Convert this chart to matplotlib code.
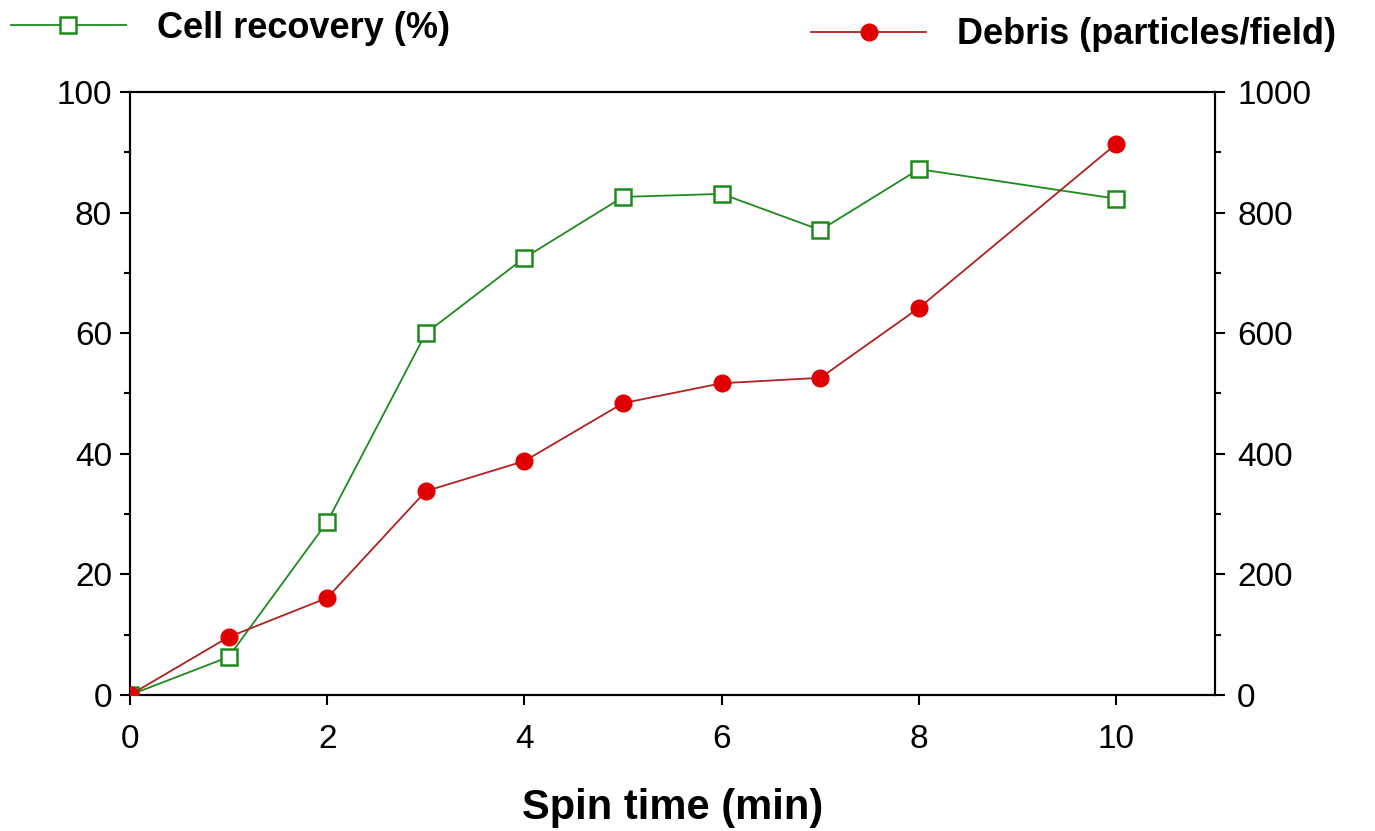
import matplotlib.pyplot as plt
from matplotlib.ticker import MultipleLocator

# === 資料 ===
spin_time = [0, 1, 2, 3, 4, 5, 6, 7, 8, 10]
cell_recovery = [0, 6.3, 28.7, 60.0, 72.5, 82.6, 83.1, 77.1, 87.2, 82.3]
debris = [0, 96, 161, 338, 388, 484, 517, 526, 642, 914]

plt.rcParams['font.family'] = ['Liberation Sans', 'DejaVu Sans']

fig = plt.figure(figsize=(13.75, 8.31), dpi=100)
ax = fig.add_axes([0.0945, 0.1637, 0.7891, 0.7256])
ax2 = ax.twinx()

# 細胞回收率（左軸）
l1, = ax.plot(spin_time, cell_recovery, color='#1e8a1e', linewidth=1.3,
              marker='s', markersize=12, markerfacecolor='white',
              markeredgecolor='#1e8a1e', markeredgewidth=1.8, zorder=3)
# 碎片數（右軸）
l2, = ax2.plot(spin_time, debris, color='#b02020', linewidth=1.3,
               marker='o', markersize=12, markerfacecolor='#e00000',
               markeredgecolor='#e00000', zorder=3)

ax.set_xlim(0, 11)
ax.set_ylim(0, 100)
ax2.set_ylim(0, 1000)
ax.set_xticks([0, 2, 4, 6, 8, 10])
ax.yaxis.set_major_locator(MultipleLocator(20))
ax.yaxis.set_minor_locator(MultipleLocator(10))
ax2.yaxis.set_major_locator(MultipleLocator(200))
ax2.yaxis.set_minor_locator(MultipleLocator(100))

for a in (ax, ax2):
    for s in a.spines.values():
        s.set_linewidth(1.5)
    a.tick_params(which='major', direction='out', length=7, width=1.5,
                  labelsize=24, pad=6)
    a.tick_params(which='minor', direction='out', length=4, width=1.5)
ax.tick_params(axis='x', pad=14)
ax2.tick_params(axis='y', pad=9)

ax.set_xlabel('Spin time (min)', fontsize=30, fontweight='bold', labelpad=24)

# 圖例
fig.legend(handles=[l1], labels=['Cell recovery (%)'], loc='center left',
           bbox_to_anchor=(-0.016, 0.966), frameon=False, handlelength=3.2,
           handletextpad=0.85, prop={'size': 26, 'weight': 'bold'})
fig.legend(handles=[l2], labels=['Debris (particles/field)'], loc='center left',
           bbox_to_anchor=(0.566, 0.958), frameon=False, handlelength=3.2,
           handletextpad=0.85, prop={'size': 26, 'weight': 'bold'})

fig.savefig('out.png', dpi=100)
